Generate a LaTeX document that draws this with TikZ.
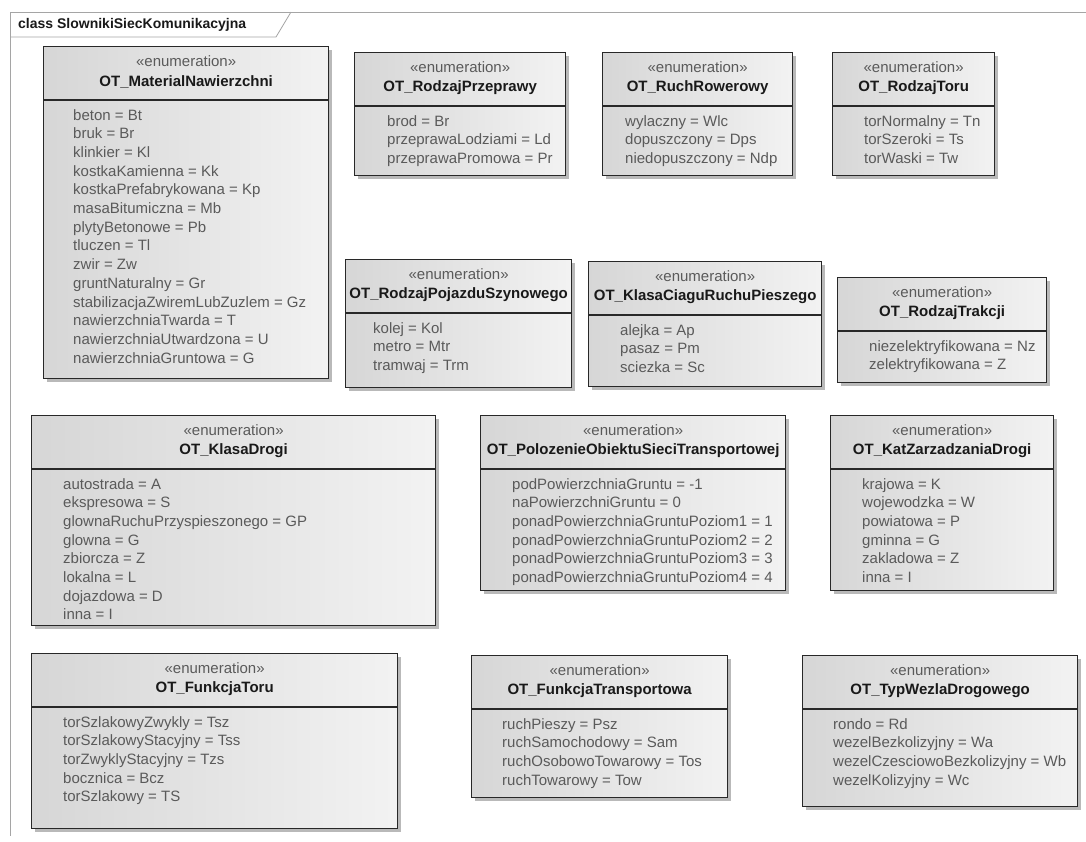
\documentclass[tikz,border=0pt]{standalone}
\usepackage{fontspec}
\setmainfont{Liberation Sans}
\usetikzlibrary{shadows}
\definecolor{ubord} {RGB}{ 40, 40, 40}
\definecolor{utext} {RGB}{ 90, 90, 90}
\definecolor{uname} {RGB}{ 25, 25, 25}
\definecolor{uframe}{RGB}{165,165,165}
\tikzset{
  % Enumeration box
  EB/.style={rectangle,draw=ubord,line width=1.3pt,inner sep=0pt,
             left color=black!16,right color=black!5,
             drop shadow={shadow xshift=3.5pt,shadow yshift=-3.5pt,
                          fill=black!50,opacity=0.55}},
  % Header text
  EH/.style={align=center,font=\fontsize{15}{19.5}\selectfont,
             text=uname,inner sep=0pt},
  % Literal lines
  EI/.style={anchor=base west,font=\fontsize{15}{18}\selectfont,
             text=utext,inner sep=0pt},
  % Divider and frame
  EL/.style={draw=ubord,line width=1.3pt},
  FR/.style={draw=uframe,line width=0.8pt},
}
% id, left, top, right, bottom, text x, name, literals
\newcommand{\enumbox}[8]{%
  \node[EB,anchor=north west,minimum width={(#4-#2)*1pt},
        minimum height={(#5-#3)*1pt}] (#1) at (#2,#3) {};
  \path (#1.north west) ++(0,54) coordinate (#1-d);
  \draw[EL] (#1-d) -- (#1-d -| #1.east);
  \path (#1.north) ++(0,26) node[EH] (#1-h)
        {\textcolor{utext}{«enumeration»}\\\textbf{#7}};
  \foreach \e [count=\i] in {#8}
    \node[EI] (#1-\i) at (#6,{#3+74+(\i-1)*18.7}) {\e};
}

\begin{document}
\begin{tikzpicture}[x=1pt,y=-1pt]
  \useasboundingbox (0,0) rectangle (1086,841);
  % frame and tab
  \draw[FR] (1086,12) -- (10,12) -- (10,836);
  \draw[FR] (10,37) -- (276,37) -- (291,12);
  \node[anchor=west,inner sep=0pt,text=uname,
        font=\fontsize{14}{16}\selectfont\bfseries] (title) at (18,25)
        {class SlownikiSiecKomunikacyjna};
  % row 1
  \enumbox{mat}{43}{46}{328}{378}{73}{OT\_MaterialNawierzchni}
    {beton = Bt, bruk = Br, klinkier = Kl, kostkaKamienna = Kk,
     kostkaPrefabrykowana = Kp, masaBitumiczna = Mb, plytyBetonowe = Pb,
     tluczen = Tl, zwir = Zw, gruntNaturalny = Gr,
     stabilizacjaZwiremLubZuzlem = Gz, nawierzchniaTwarda = T,
     nawierzchniaUtwardzona = U, nawierzchniaGruntowa = G}
  \enumbox{prz}{354}{52}{565}{175}{387}{OT\_RodzajPrzeprawy}
    {brod = Br, przeprawaLodziami = Ld, przeprawaPromowa = Pr}
  \enumbox{row}{602}{52}{792}{175}{625}{OT\_RuchRowerowy}
    {wylaczny = Wlc, dopuszczony = Dps, niedopuszczony = Ndp}
  \enumbox{tor}{832}{52}{994}{175}{864}{OT\_RodzajToru}
    {torNormalny = Tn, torSzeroki = Ts, torWaski = Tw}
  % row 2
  \enumbox{poj}{345}{259}{571}{387}{373}{OT\_RodzajPojazduSzynowego}
    {kolej = Kol, metro = Mtr, tramwaj = Trm}
  \enumbox{pie}{588}{261}{821}{386}{620}{OT\_KlasaCiaguRuchuPieszego}
    {alejka = Ap, pasaz = Pm, sciezka = Sc}
  \enumbox{tra}{837}{277}{1046}{382}{869}{OT\_RodzajTrakcji}
    {niezelektryfikowana = Nz, zelektryfikowana = Z}
  % row 3
  \enumbox{kd}{31}{415}{435}{625}{63}{OT\_KlasaDrogi}
    {autostrada = A, ekspresowa = S, glownaRuchuPrzyspieszonego = GP,
     glowna = G, zbiorcza = Z, lokalna = L, dojazdowa = D, inna = I}
  \enumbox{pol}{480}{415}{785}{590}{512}{OT\_PolozenieObiektuSieciTransportowej}
    {podPowierzchniaGruntu = -1, naPowierzchniGruntu = 0,
     ponadPowierzchniaGruntuPoziom1 = 1, ponadPowierzchniaGruntuPoziom2 = 2,
     ponadPowierzchniaGruntuPoziom3 = 3, ponadPowierzchniaGruntuPoziom4 = 4}
  \enumbox{kz}{830}{415}{1053}{590}{862}{OT\_KatZarzadzaniaDrogi}
    {krajowa = K, wojewodzka = W, powiatowa = P, gminna = G,
     zakladowa = Z, inna = I}
  % row 4
  \enumbox{ft}{31}{653}{397}{828}{63}{OT\_FunkcjaToru}
    {torSzlakowyZwykly = Tsz, torSzlakowyStacyjny = Tss,
     torZwyklyStacyjny = Tzs, bocznica = Bcz, torSzlakowy = TS}
  \enumbox{ftr}{471}{655}{727}{797}{502}{OT\_FunkcjaTransportowa}
    {ruchPieszy = Psz, ruchSamochodowy = Sam, ruchOsobowoTowarowy = Tos,
     ruchTowarowy = Tow}
  \enumbox{twd}{802}{655}{1077}{806}{833}{OT\_TypWezlaDrogowego}
    {rondo = Rd, wezelBezkolizyjny = Wa, wezelCzesciowoBezkolizyjny = Wb,
     wezelKolizyjny = Wc}
\end{tikzpicture}
\end{document}
